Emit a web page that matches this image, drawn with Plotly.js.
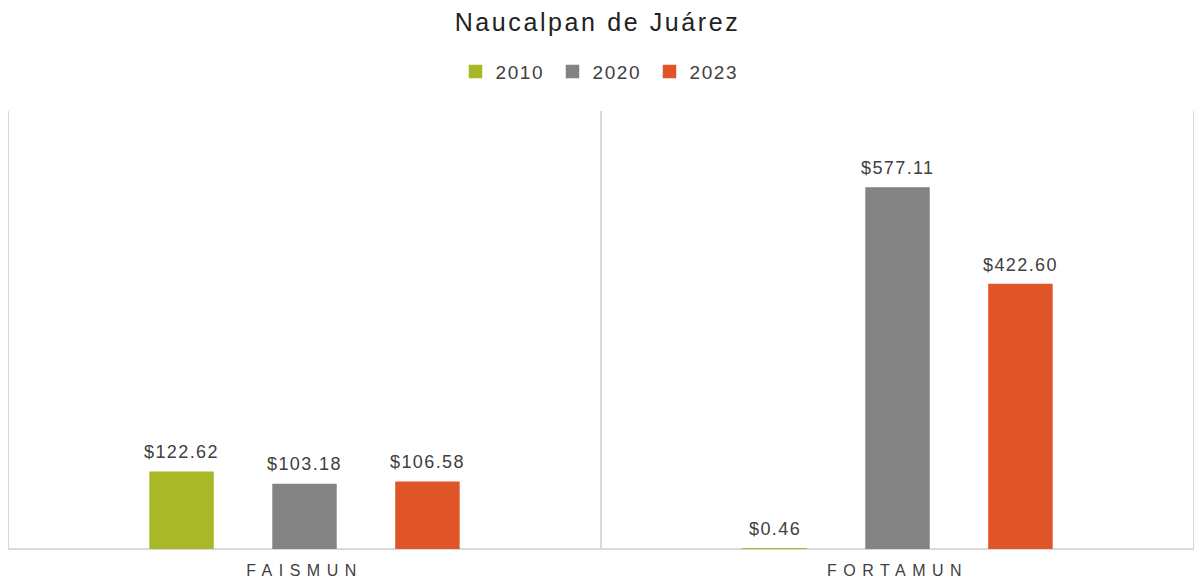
<!DOCTYPE html>
<html><head><meta charset="utf-8">
<script src="https://cdn.plot.ly/plotly-3.0.1.min.js"></script>
<style>
html,body{margin:0;padding:0;background:#fff;}
#chart{width:1195px;height:579px;}
.xtick text{letter-spacing:6.5px;}
.gtitle{letter-spacing:2.6px;}
.legendtext{letter-spacing:1.6px;}
.annotation-text{letter-spacing:1.4px;}
</style>
</head><body><div id="chart"></div>
<script>
const categories = ["FAISMUN", "FORTAMUN"];
const seriesNames = ["2010", "2020", "2023"];
const values2010 = [122.62, 0.46];
const values2020 = [103.18, 577.11];
const values2023 = [106.58, 422.60];
const colors = ["#A8B826", "#838383", "#E05528"];
const allValues = [values2010, values2020, values2023];

const font = "Liberation Sans, Arial, sans-serif";
const bargap = 0.378;
const traces = allValues.map((v, i) => ({
  type: "bar",
  name: seriesNames[i],
  x: categories,
  y: v,
  marker: {color: colors[i], line: {color: colors[i], width: 1.5}},
  hoverinfo: "none"
}));

// data labels as annotations, placed at each bar's slot in category units
const annotations = [];
allValues.forEach((v, i) => {
  v.forEach((d, c) => {
    annotations.push({
      xref: "x", yref: "y",
      x: c + (i - 1) * (1 - bargap) / 3,
      y: d,
      text: "$" + d.toFixed(2),
      showarrow: false,
      yanchor: "bottom",
      yshift: 8,
      font: {family: font, size: 18, color: "#404040"}
    });
  });
});

const layout = {
  width: 1195, height: 579,
  margin: {l: 8, r: 1, t: 111, b: 30},
  paper_bgcolor: "#fff", plot_bgcolor: "#fff",
  title: {text: "Naucalpan de Juárez", x: 0.5, xanchor: "center", y: 0.962, yanchor: "middle",
          font: {family: font, size: 25, color: "#222"}},
  showlegend: true,
  legend: {orientation: "h", x: 0.5, xanchor: "center", y: 1.09, yanchor: "middle",
           font: {family: font, size: 19, color: "#404040"}, traceorder: "normal",
           entrywidth: 52, entrywidthmode: "pixels"},
  barmode: "group",
  bargap: bargap,
  bargroupgap: 0.488,
  xaxis: {type: "category", showgrid: false, showline: false, zeroline: false, ticks: "",
          ticklabelstandoff: 10,
          tickfont: {family: font, size: 16, color: "#404040"}, range: [-0.5, 1.5]},
  yaxis: {range: [0, 700], showgrid: false, showticklabels: false, zeroline: false, showline: false},
  annotations: annotations,
  shapes: [
    {type: "line", layer: "below", xref: "x", yref: "paper", x0: -0.5, x1: -0.5, y0: 0, y1: 1, line: {color: "#d9d9d9", width: 2}},
    {type: "line", layer: "below", xref: "x", yref: "paper", x0: 0.5, x1: 0.5, y0: 0, y1: 1, line: {color: "#d9d9d9", width: 2}},
    {type: "line", layer: "below", xref: "x", yref: "paper", x0: 1.5, x1: 1.5, y0: 0, y1: 1, line: {color: "#d9d9d9", width: 2}},
    {type: "line", layer: "below", xref: "paper", yref: "paper", x0: 0, x1: 1, y0: 0, y1: 0, line: {color: "#d9d9d9", width: 2}}
  ]
};
Plotly.newPlot("chart", traces, layout, {staticPlot: true, displayModeBar: false});
</script></body></html>
